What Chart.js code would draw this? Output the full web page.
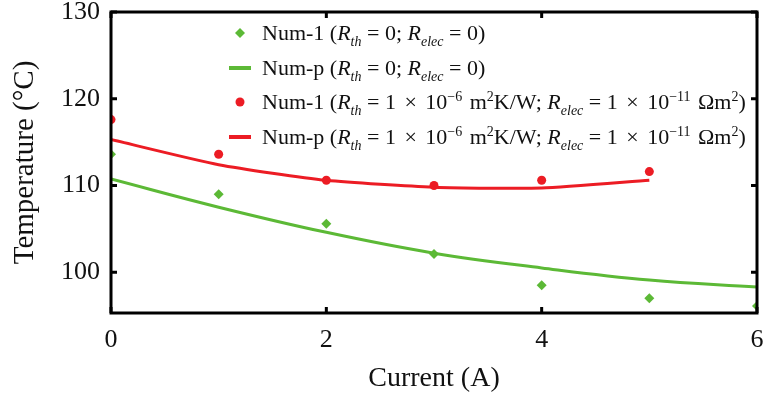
<!DOCTYPE html>
<html>
<head>
<meta charset="utf-8">
<script src="https://cdn.jsdelivr.net/npm/chart.js@4.4.1/dist/chart.umd.min.js"></script>
<style>
  html, body { margin: 0; padding: 0; background: #fff; }
  #wrap { width: 765px; height: 398px; position: relative; }
</style>
</head>
<body>
<div id="wrap"><canvas id="c" width="765" height="398"></canvas></div>
<script>
// Current (A)
const current = [0, 1, 2, 3, 4, 5, 6];
// Ideal contacts (R_th = 0, R_elec = 0)
const num1Ideal = [113.6, 109.0, 105.6, 102.1, 98.5, 97.0, 96.1];
const numpIdeal = [110.75, 107.5, 104.6, 102.2, 100.5, 99.1, 98.3];
// With contact resistances
const num1Contact = [117.6, 113.6, 110.6, 110.0, 110.6, 111.6];
const numpContact = [115.3, 112.4, 110.6, 109.8, 109.7, 110.6];

const xTicks = [0, 2, 4, 6];
const yTicks = [100, 110, 120, 130];

const GREEN = '#5cb936';
const RED = '#ec1c24';
const SERIF = '"Liberation Serif", "DejaVu Serif", serif';

const pts = (ys) => ys.map((y, i) => ({ x: current[i], y }));

// Legend rows as rich-text runs: [text, kind]; kind n = normal, i = italic,
// sub / sup = small shifted text, gap = extra horizontal space in px
const contactRuns = [['Num-1 (', 'n'], ['R', 'i'], ['th', 'sub'], [' = 1', 'n'], [3, 'gap'], [' × ', 'n'], [3, 'gap'], ['10', 'n'], ['−6', 'sup'], [2, 'gap'], [' m', 'n'], ['2', 'sup'], ['K/W; ', 'n'], ['R', 'i'], ['elec', 'sub'], [' = 1', 'n'], [3, 'gap'], [' × ', 'n'], [3, 'gap'], ['10', 'n'], ['−11', 'sup'], [2, 'gap'], [' Ωm', 'n'], ['2', 'sup'], [')', 'n']];
const legendRows = [
  { marker: 'diamond', color: GREEN, runs: [['Num-1 (', 'n'], ['R', 'i'], ['th', 'sub'], [' = 0; ', 'n'], ['R', 'i'], ['elec', 'sub'], [' = 0)', 'n']] },
  { marker: 'line', color: GREEN, runs: [['Num-p (', 'n'], ['R', 'i'], ['th', 'sub'], [' = 0; ', 'n'], ['R', 'i'], ['elec', 'sub'], [' = 0)', 'n']] },
  { marker: 'dot', color: RED, runs: contactRuns },
  { marker: 'line', color: RED, runs: [['Num-p (', 'n']].concat(contactRuns.slice(1)) }
];

// Boxed frame with inward tick marks on all four sides
const framePlugin = {
  id: 'frame',
  afterDatasetsDraw(chart) {
    const { ctx, chartArea: a, scales } = chart;
    ctx.save();
    ctx.strokeStyle = '#000';
    ctx.lineWidth = 3;
    ctx.strokeRect(a.left, a.top, a.right - a.left, a.bottom - a.top);
    const t = 6;
    ctx.beginPath();
    xTicks.forEach(v => {
      const px = scales.x.getPixelForValue(v);
      ctx.moveTo(px, a.bottom); ctx.lineTo(px, a.bottom - t);
      ctx.moveTo(px, a.top); ctx.lineTo(px, a.top + t);
    });
    yTicks.forEach(v => {
      const py = scales.y.getPixelForValue(v);
      ctx.moveTo(a.left, py); ctx.lineTo(a.left + t, py);
      ctx.moveTo(a.right, py); ctx.lineTo(a.right - t, py);
    });
    ctx.stroke();
    ctx.restore();
  }
};

// Legend drawn inside the plot, with italic symbols, subscripts and superscripts
const richLegend = {
  id: 'richLegend',
  afterDraw(chart) {
    const { ctx } = chart;
    const size = 22, small = 14;
    const x0 = 262, mx = 240;
    const rowY = [33, 68, 102, 137];
    ctx.save();
    legendRows.forEach((row, r) => {
      const y = rowY[r];
      ctx.fillStyle = row.color;
      ctx.strokeStyle = row.color;
      if (row.marker === 'diamond') {
        ctx.beginPath();
        ctx.moveTo(mx, y - 5); ctx.lineTo(mx + 5, y); ctx.lineTo(mx, y + 5); ctx.lineTo(mx - 5, y);
        ctx.closePath(); ctx.fill();
      } else if (row.marker === 'dot') {
        ctx.beginPath(); ctx.arc(mx, y, 4.5, 0, Math.PI * 2); ctx.fill();
      } else {
        ctx.lineWidth = 4;
        ctx.beginPath(); ctx.moveTo(mx - 11, y); ctx.lineTo(mx + 11, y); ctx.stroke();
      }
      ctx.fillStyle = '#111';
      ctx.textBaseline = 'alphabetic';
      let x = x0;
      const base = y + 7;
      row.runs.forEach(([txt, kind]) => {
        if (kind === 'gap') { x += txt; return; }
        let font, dy = 0;
        if (kind === 'n') font = `${size}px ${SERIF}`;
        else if (kind === 'i') font = `italic ${size}px ${SERIF}`;
        else if (kind === 'sub') { font = `italic ${small}px ${SERIF}`; dy = 6; }
        else { font = `${small}px ${SERIF}`; dy = -8; }
        ctx.font = font;
        ctx.fillText(txt, x, base + dy);
        x += ctx.measureText(txt).width;
      });
    });
    ctx.restore();
  }
};

new Chart(document.getElementById('c'), {
  type: 'line',
  data: {
    datasets: [
      { label: 'Num-1 ideal', data: pts(num1Ideal), showLine: false, pointStyle: 'rectRot', pointRadius: 5, backgroundColor: GREEN, borderColor: GREEN, borderWidth: 0 },
      { label: 'Num-p ideal', data: pts(numpIdeal), borderColor: GREEN, borderWidth: 3, pointRadius: 0, tension: 0.4, fill: false },
      { label: 'Num-1 contact', data: pts(num1Contact), showLine: false, pointStyle: 'circle', pointRadius: 4.5, backgroundColor: RED, borderColor: RED, borderWidth: 0 },
      { label: 'Num-p contact', data: pts(numpContact), borderColor: RED, borderWidth: 3, pointRadius: 0, tension: 0.2, fill: false }
    ]
  },
  options: {
    responsive: false,
    animation: false,
    layout: { padding: { top: 12, right: 8, left: 0, bottom: 0 } },
    plugins: { legend: { display: false }, tooltip: { enabled: false } },
    scales: {
      x: {
        type: 'linear', min: 0, max: 6,
        afterBuildTicks: s => { s.ticks = xTicks.map(v => ({ value: v })); },
        afterFit: s => { s.height = 85; s.paddingLeft = 0; s.paddingRight = 0; },
        grid: { display: false, drawTicks: false },
        border: { display: false },
        ticks: { color: '#111', padding: 12, font: { family: SERIF, size: 26 } },
        title: { display: true, text: 'Current (A)', color: '#111', font: { family: SERIF, size: 28 }, padding: { top: 4, bottom: 3 } }
      },
      y: {
        type: 'linear', min: 95.3, max: 130,
        afterBuildTicks: s => { s.ticks = yTicks.map(v => ({ value: v })); },
        afterFit: s => { s.width = 111; s.paddingTop = 0; s.paddingBottom = 0; },
        grid: { display: false, drawTicks: false },
        border: { display: false },
        ticks: { color: '#111', padding: 11, font: { family: SERIF, size: 26 } },
        title: { display: true, text: 'Temperature (°C)', color: '#111', font: { family: SERIF, size: 29 }, padding: { top: 8, bottom: 0 } }
      }
    }
  },
  plugins: [framePlugin, richLegend]
});
</script>
</body>
</html>
